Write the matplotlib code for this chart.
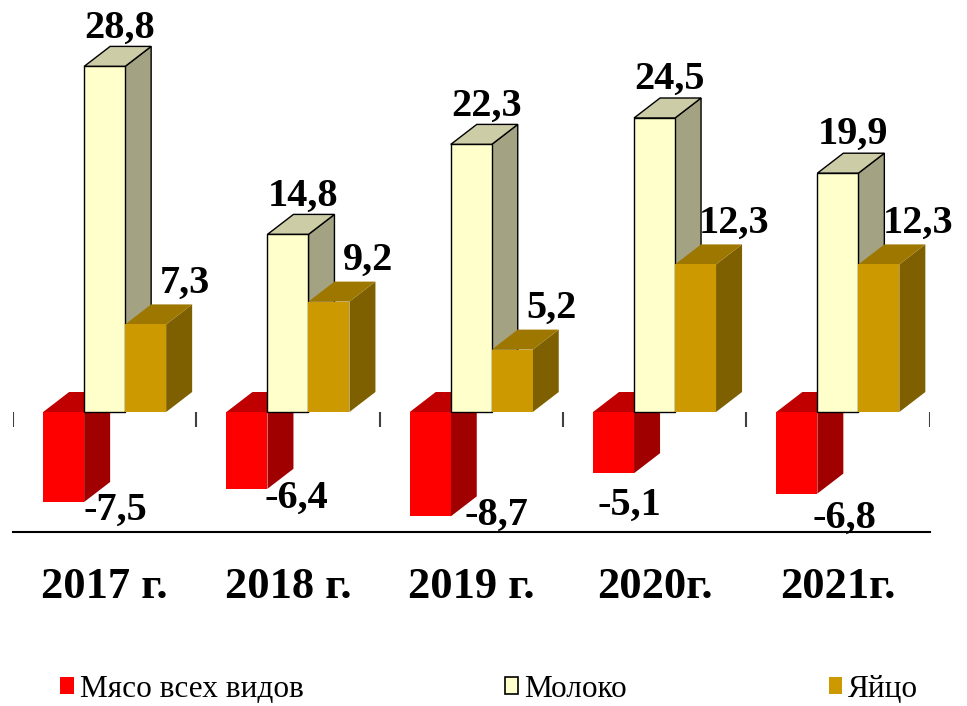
import numpy as np
import matplotlib.pyplot as plt
from matplotlib.patches import Polygon, Rectangle

plt.rcParams['font.family'] = ['Liberation Serif', 'DejaVu Serif']

# данные
years = ["2017 г.", "2018 г.", "2019 г.", "2020г.", "2021г."]
series = ["Мясо всех видов", "Молоко", "Яйцо"]
meat = [-7.5, -6.4, -8.7, -5.1, -6.8]
milk = [28.8, 14.8, 22.3, 24.5, 19.9]
eggs = [7.3, 9.2, 5.2, 12.3, 12.3]

# цвета: лицо, бок, верх
col_meat = ('#FF0000', '#A00000', '#C00000')
col_milk = ('#FFFFCC', '#A3A383', '#CCCCA6')
col_eggs = ('#CC9900', '#7F6000', '#9E7700')

fig = plt.figure(figsize=(9.67, 7.06), dpi=100)
W, H = 967, 706
ax = fig.add_axes([13 / W, (H - 532) / H, (929.5 - 13) / W, 528 / H])
ax.set_xlim(-0.5, 4.5)
ax.set_ylim(-10, 34)

# "глубина" объемных столбиков в единицах данных
px_x = (929.5 - 13) / 5
px_y = 528 / 44
dx = 26 / px_x
dy = 20 / px_y
bw = 41 / px_x

x = np.arange(len(years))
z = [2]


def box(x0, v, cols, edge):
    x1 = x0 + bw
    lo, hi = min(0, v), max(0, v)
    ec = 'black' if edge else 'none'
    lw = 1.0 if edge else 0
    side = [(x1, lo), (x1 + dx, lo + dy), (x1 + dx, hi + dy), (x1, hi)]
    top = [(x0, hi), (x1, hi), (x1 + dx, hi + dy), (x0 + dx, hi + dy)]
    ax.add_patch(Polygon(side, closed=True, fc=cols[1], ec=ec, lw=lw, zorder=z[0]))
    ax.add_patch(Polygon(top, closed=True, fc=cols[2], ec=ec, lw=lw, zorder=z[0] + 1))
    ax.bar(x0, v, width=bw, align='edge', color=cols[0], edgecolor=ec, linewidth=lw,
           zorder=z[0] + 2)
    z[0] += 3


for i in range(len(years)):
    box(x[i] - 1.5 * bw, meat[i], col_meat, False)
    box(x[i] - 0.5 * bw, milk[i], col_milk, True)
    box(x[i] + 0.5 * bw, eggs[i], col_eggs, False)

# подписи значений
lbl = dict(fontsize=29, fontweight='bold', ha='center', va='baseline',
           textcoords='offset pixels', annotation_clip=False, zorder=100)
meat_off = [(52, -18), (49, -19), (66, -8), (16, -42), (48, -34)]
for i in range(len(years)):
    ax.annotate(str(milk[i]).replace('.', ','), (x[i], milk[i] + dy), xytext=(15, 9), **lbl)
    ax.annotate(str(eggs[i]).replace('.', ','), (x[i] + bw, eggs[i] + dy), xytext=(39, 12), **lbl)
    ax.annotate(str(meat[i]).replace('.', ','), (x[i] - bw, meat[i]), xytext=meat_off[i], **lbl)

# засечки на нулевой линии
ax.vlines(np.arange(-0.5, 5), 0, -15 / px_y, color='#404040', lw=1.5, zorder=1)

for i in range(len(years)):
    ax.text(x[i], -15.5, years[i], fontsize=32, fontweight='bold', ha='center',
            va='baseline', clip_on=False)

for s in ['top', 'left', 'right']:
    ax.spines[s].set_visible(False)
ax.spines['bottom'].set_linewidth(1.5)
ax.set_xticks([])
ax.set_yticks([])
ax.patch.set_alpha(0)

handles = [Rectangle((0, 0), 1, 1, fc=col_meat[0], ec='none'),
           Rectangle((0, 0), 1, 1, fc=col_milk[0], ec='black', lw=1.2),
           Rectangle((0, 0), 1, 1, fc=col_eggs[0], ec='none')]
fig.legend(handles, series, loc='center', bbox_to_anchor=(0.506, 0.024), ncol=3,
           frameon=False, fontsize=22.5, handlelength=0.42, handleheight=0.5,
           handletextpad=0.2, columnspacing=6.45, borderpad=0)

fig.savefig('out.png', dpi=100)
